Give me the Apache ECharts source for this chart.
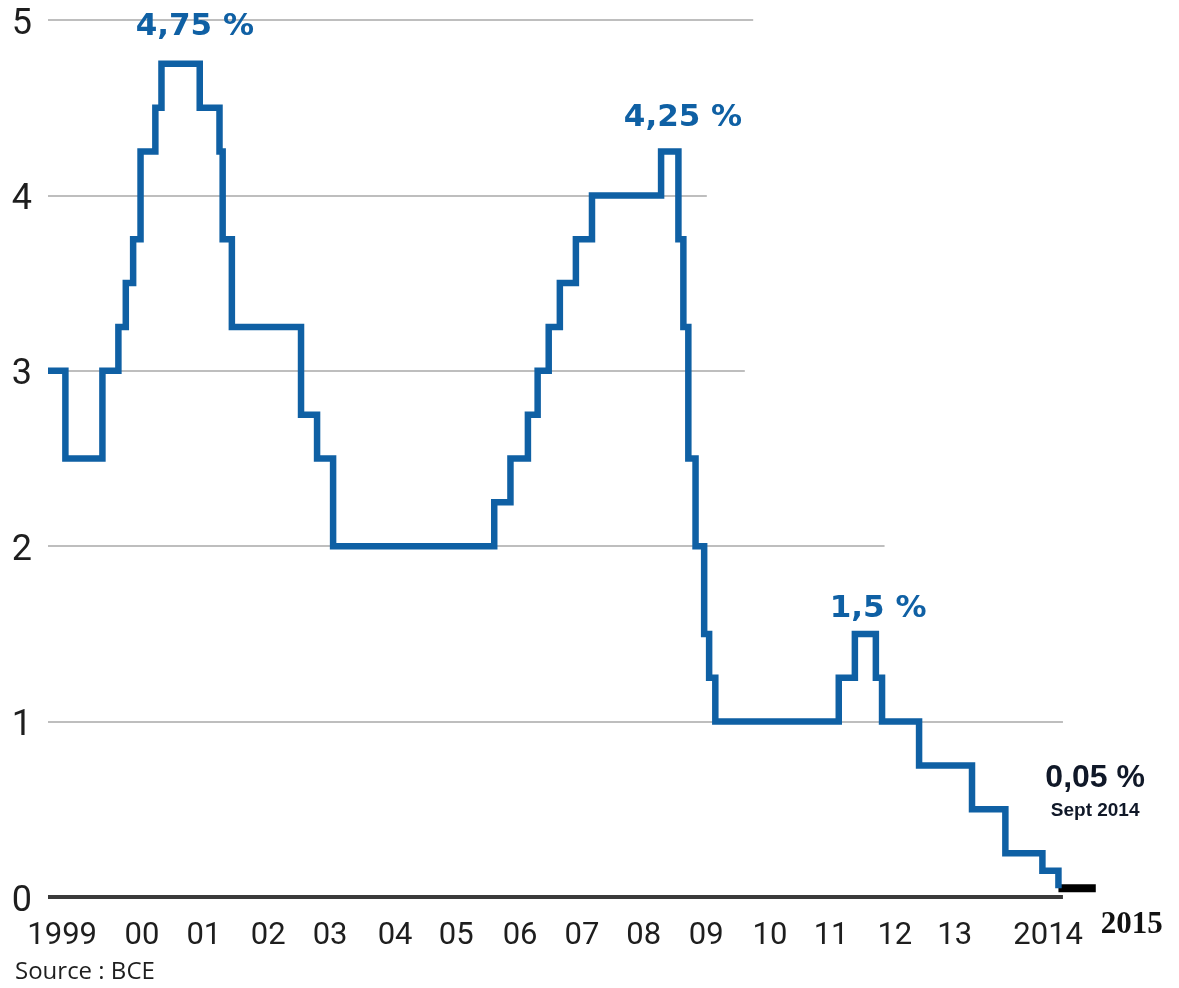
<!DOCTYPE html>
<html lang="fr">
<head>
  <meta charset="UTF-8">
  <title>BCE - taux directeur 1999-2014</title>
  <style>
    html, body { margin: 0; padding: 0; background: #fff; }
    #chart { width: 1179px; height: 988px; }
  </style>
</head>
<body>
  <div id="chart"></div>

  <script src="https://cdn.jsdelivr.net/npm/echarts@6/dist/echarts.min.js"></script>
  <script>
    // date of each decision (decimal year) and the new rate, in %
    const dates = [1999.0, 1999.27, 1999.845, 2000.093, 2000.208, 2000.322, 2000.437, 2000.667, 2000.762,
      2001.356, 2001.663, 2001.712, 2001.855, 2002.929, 2003.178, 2003.427, 2005.929, 2006.181, 2006.452,
      2006.603, 2006.775, 2006.948, 2007.197, 2007.447, 2008.52, 2008.789, 2008.866, 2008.943, 2009.055,
      2009.189, 2009.266, 2009.362, 2011.279, 2011.529, 2011.855, 2011.951, 2012.526, 2013.348, 2013.866,
      2014.441, 2014.69];
    const rates = [3.0, 2.5, 3.0, 3.25, 3.5, 3.75, 4.25, 4.5, 4.75,
      4.5, 4.25, 3.75, 3.25, 2.75, 2.5, 2.0, 2.25, 2.5, 2.75,
      3.0, 3.25, 3.5, 3.75, 4.0, 4.25, 3.75, 3.25, 2.5, 2.0,
      1.5, 1.25, 1.0, 1.25, 1.5, 1.25, 1.0, 0.75, 0.5, 0.25,
      0.15, 0.05];

    // black bit: the rate held into 2015
    const tailDates = [2014.69, 2015.27];
    const tailRates = [0.05, 0.05];

    // horizontal lines, each stops at its own year
    const gridValues = [1, 2, 3, 4, 5];
    const gridEnds = [2014.76, 2011.99, 2009.82, 2009.23, 2009.95];
    const zeroEnd = 2014.76;

    // labels under the axis (they are not on the year ticks)
    const yearLabels = ['1999', '00', '01', '02', '03', '04', '05', '06', '07', '08', '09', '10', '11', '12', '13', '2014'];
    const yearPos = [1999.22, 2000.46, 2001.42, 2002.42, 2003.38, 2004.39, 2005.34, 2006.33, 2007.29, 2008.25,
      2009.22, 2010.21, 2011.16, 2012.15, 2013.08, 2014.53];
    // the extra "2015" added by hand, in another font
    const endLabel = '2015';
    const endPos = [2015.83];

    // peaks written over the curve
    const peakNotes = ['4,75 %', '4,25 %', '1,5 %'];
    const peakX = [2001.28, 2008.86, 2011.89];
    const peakY = [4.96, 4.44, 1.64];

    // last value
    const lastNotes = ['0,05 %', 'Sept 2014'];
    const lastX = [2015.26, 2015.26];
    const lastY = [0.68, 0.49];

    const BLUE = '#0f60a4';
    const AXIS_FONT = 'Roboto, sans-serif';

    window.onload = () => {
      let dom = document.getElementById('chart');
      let chart = echarts.init(dom);

      let gridLines = gridValues.map((v, i) => [{ coord: [1999, v] }, { coord: [gridEnds[i], v] }]);
      gridLines.push([{ coord: [1999, 0], lineStyle: { color: '#3a3a3a', width: 4 } }, { coord: [zeroEnd, 0] }]);

      let hiddenBits = {
        axisLine: { show: false },
        axisTick: { show: false },
        splitLine: { show: false }
      };

      let option = {
        animation: false,
        grid: { left: 48, right: 36.2, top: 20, bottom: 91 },
        xAxis: [{
          type: 'value',
          min: 1999,
          max: 2016,
          ...hiddenBits,
          axisLabel: {
            customValues: yearPos,
            margin: 24,
            fontFamily: AXIS_FONT,
            fontSize: 31,
            color: '#1e1e1e',
            formatter: (val) => {
              let i = yearPos.findIndex(p => Math.abs(p - val) < 1e-6);
              return i < 0 ? '' : yearLabels[i];
            }
          }
        }, {
          type: 'value',
          min: 1999,
          max: 2016,
          position: 'bottom',
          ...hiddenBits,
          axisLabel: {
            customValues: endPos,
            margin: 12,
            fontFamily: '"Liberation Serif", serif',
            fontWeight: 'bold',
            fontSize: 31,
            color: '#111',
            formatter: () => endLabel
          }
        }],
        yAxis: {
          type: 'value',
          min: 0,
          max: 5,
          interval: 1,
          ...hiddenBits,
          axisLabel: {
            margin: 16,
            fontFamily: AXIS_FONT,
            fontSize: 36,
            color: '#1e1e1e',
            verticalAlign: 'top',
            lineHeight: 9
          }
        },
        graphic: [{
          type: 'text',
          left: 15,
          top: 960,
          style: { text: 'Source : BCE', font: '24px "Open Sans", sans-serif', fill: '#1e1e1e' }
        }],
        series: [{
          // grid lines only
          type: 'line',
          z: 1,
          data: [],
          markLine: {
            silent: true,
            symbol: ['none', 'none'],
            label: { show: false },
            lineStyle: { color: '#a8a8a8', width: 1.5, type: 'solid' },
            data: gridLines
          }
        }, {
          name: 'taux',
          type: 'line',
          z: 10,
          step: 'end',
          showSymbol: false,
          lineStyle: { color: BLUE, width: 6.5, join: 'miter', cap: 'butt' },
          data: dates.map((d, i) => [d, rates[i]]),
          markPoint: {
            silent: true,
            symbol: 'circle',
            symbolSize: 0,
            itemStyle: { color: 'rgba(0,0,0,0)' },
            label: {
              show: true,
              position: 'inside',
              formatter: p => p.name,
              fontFamily: '"DejaVu Sans", sans-serif',
              fontWeight: 'bold',
              fontSize: 31,
              color: BLUE
            },
            data: peakNotes.map((n, i) => ({ name: n, coord: [peakX[i], peakY[i]] }))
          }
        }, {
          name: 'fin',
          type: 'line',
          z: 9,
          showSymbol: false,
          lineStyle: { color: '#000', width: 8, cap: 'butt' },
          data: tailDates.map((d, i) => [d, tailRates[i]]),
          markPoint: {
            silent: true,
            symbol: 'circle',
            symbolSize: 0,
            itemStyle: { color: 'rgba(0,0,0,0)' },
            label: {
              show: true,
              position: 'inside',
              formatter: p => p.name,
              fontFamily: '"Liberation Sans", Arial, sans-serif',
              fontWeight: 'bold',
              color: '#101828'
            },
            data: lastNotes.map((n, i) => ({
              name: n,
              coord: [lastX[i], lastY[i]],
              label: { fontSize: i === 0 ? 32 : 19 }
            }))
          }
        }]
      };

      chart.setOption(option);
    };
  </script>
</body>
</html>
